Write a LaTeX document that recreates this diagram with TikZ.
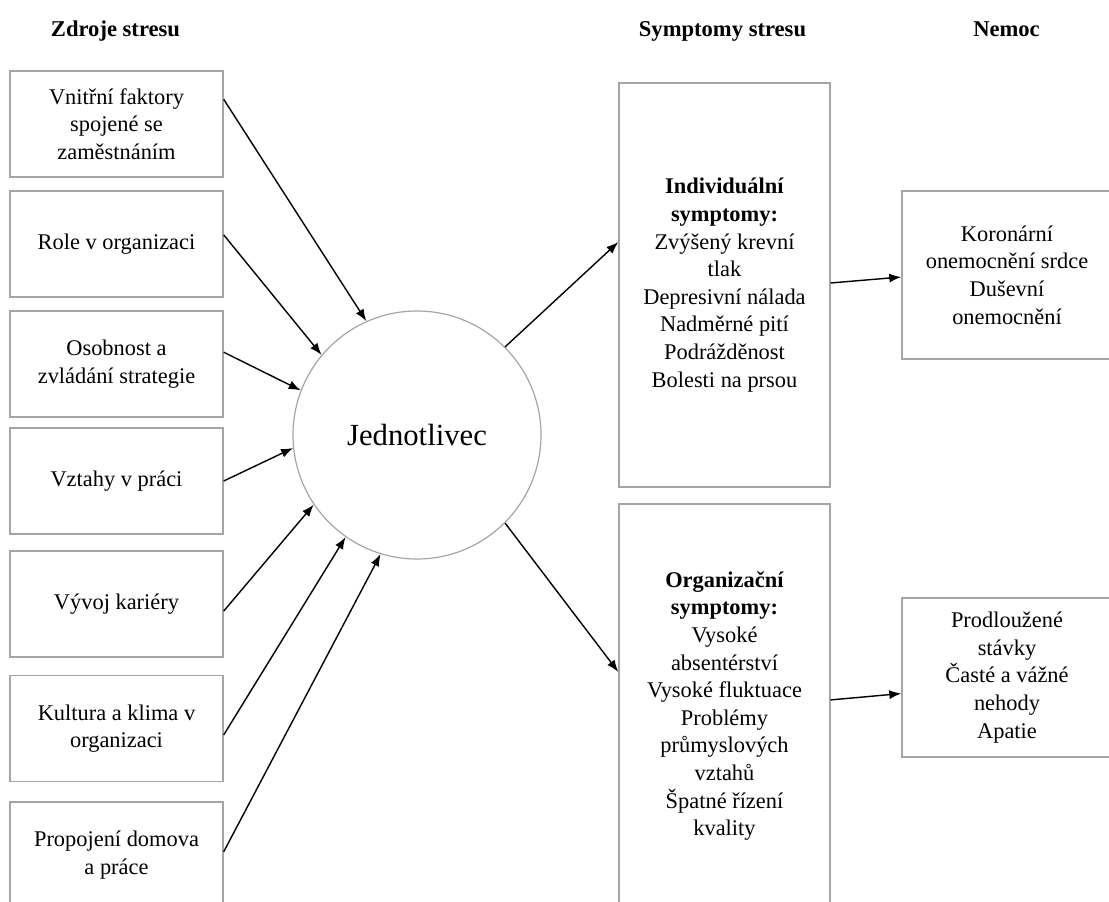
\documentclass[tikz,border=0pt]{standalone}
\usepackage{fontspec}
\setmainfont{Liberation Serif}
\usetikzlibrary{arrows.meta,calc}
\definecolor{boxgray}{RGB}{165,165,165}
\begin{document}
\begin{tikzpicture}[x=1pt,y=-1pt,
  txt/.style={font=\fontsize{22.4}{27.6}\selectfont, align=center, text=black},
  hdr/.style={font=\bfseries\fontsize{22.6}{27.6}\selectfont, anchor=base, inner sep=0pt},
  srcbox/.style={txt, draw=boxgray, line width=1.4pt, minimum width=213pt, minimum height=106pt, inner sep=0pt},
  symbox/.style={txt, draw=boxgray, line width=1.4pt, minimum width=211pt, minimum height=404pt, inner sep=0pt},
  disbox/.style={txt, draw=boxgray, line width=1.4pt, minimum width=210pt, inner sep=0pt},
  person/.style={circle, draw=boxgray, line width=1.2pt, minimum size=248pt, inner sep=0pt, font=\fontsize{30.7}{36}\selectfont},
  arr/.style={-{Latex[length=12pt,width=9pt]}, line width=1.4pt, black}
]
\useasboundingbox (0,0) rectangle (1109,902);

% headers
\node[hdr] (h1) at (115.5,36) {Zdroje stresu};
\node[hdr] (h2) at (722.5,36) {Symptomy stresu};
\node[hdr] (h3) at (1006.5,36) {Nemoc};

% sources
\node[srcbox] (s1) at (116.5,124) {Vnitřní faktory\\spojené se\\zaměstnáním};
\node[srcbox] (s2) at (116.5,244) {Role v organizaci};
\node[srcbox] (s3) at (116.5,364) {Osobnost a\\zvládání strategie};
\node[srcbox] (s4) at (116.5,481) {Vztahy v práci};
\node[srcbox] (s5) at (116.5,604) {Vývoj kariéry};
\node[srcbox] (s6) at (116.5,728.5) {Kultura a klima v\\organizaci};
\node[srcbox] (s7) at (116.5,855) {Propojení domova\\a práce};

% individual
\node[person] (c) at (417,435) {Jednotlivec};

% symptoms
\node[symbox] (ind) at (724.5,285) {\textbf{Individuální}\\\textbf{symptomy:}\\Zvýšený krevní\\tlak\\Depresivní nálada\\Nadměrné pití\\Podrážděnost\\Bolesti na prsou};
\node[symbox] (org) at (724.5,706) {\textbf{Organizační}\\\textbf{symptomy:}\\Vysoké\\absentérství\\Vysoké fluktuace\\Problémy\\průmyslových\\vztahů\\Špatné řízení\\kvality};

% diseases
\node[disbox, minimum height=168pt] (kor) at (1007,275) {Koronární\\onemocnění srdce\\Duševní\\onemocnění};
\node[disbox, minimum height=159pt] (pro) at (1007,677.5) {Prodloužené\\stávky\\Časté a vážné\\nehody\\Apatie};

% arrows into the individual
\draw[arr] ($(s1.north east)!0.27!(s1.south east)$) -- (c.114.5);
\draw[arr] ($(s2.north east)!0.415!(s2.south east)$) -- (c.140);
\draw[arr] ($(s3.north east)!0.39!(s3.south east)$) -- (c.159.5);
\draw[arr] ($(s4.north east)!0.5!(s4.south east)$) -- (c.186);
\draw[arr] ($(s5.north east)!0.566!(s5.south east)$) -- (c.214);
\draw[arr] ($(s6.north east)!0.56!(s6.south east)$) -- (c.235);
\draw[arr] ($(s7.north east)!0.47!(s7.south east)$) -- (c.253);

% arrows out of the individual
\draw[arr] (c.45) -- ($(ind.north west)!0.394!(ind.south west)$);
\draw[arr] (c.-45) -- ($(org.north west)!0.416!(org.south west)$);

% symptoms to diseases
\draw[arr] ($(ind.north east)!0.495!(ind.south east)$) -- ($(kor.north west)!0.512!(kor.south west)$);
\draw[arr] ($(org.north east)!0.485!(org.south east)$) -- ($(pro.north west)!0.6!(pro.south west)$);
\end{tikzpicture}
\end{document}
